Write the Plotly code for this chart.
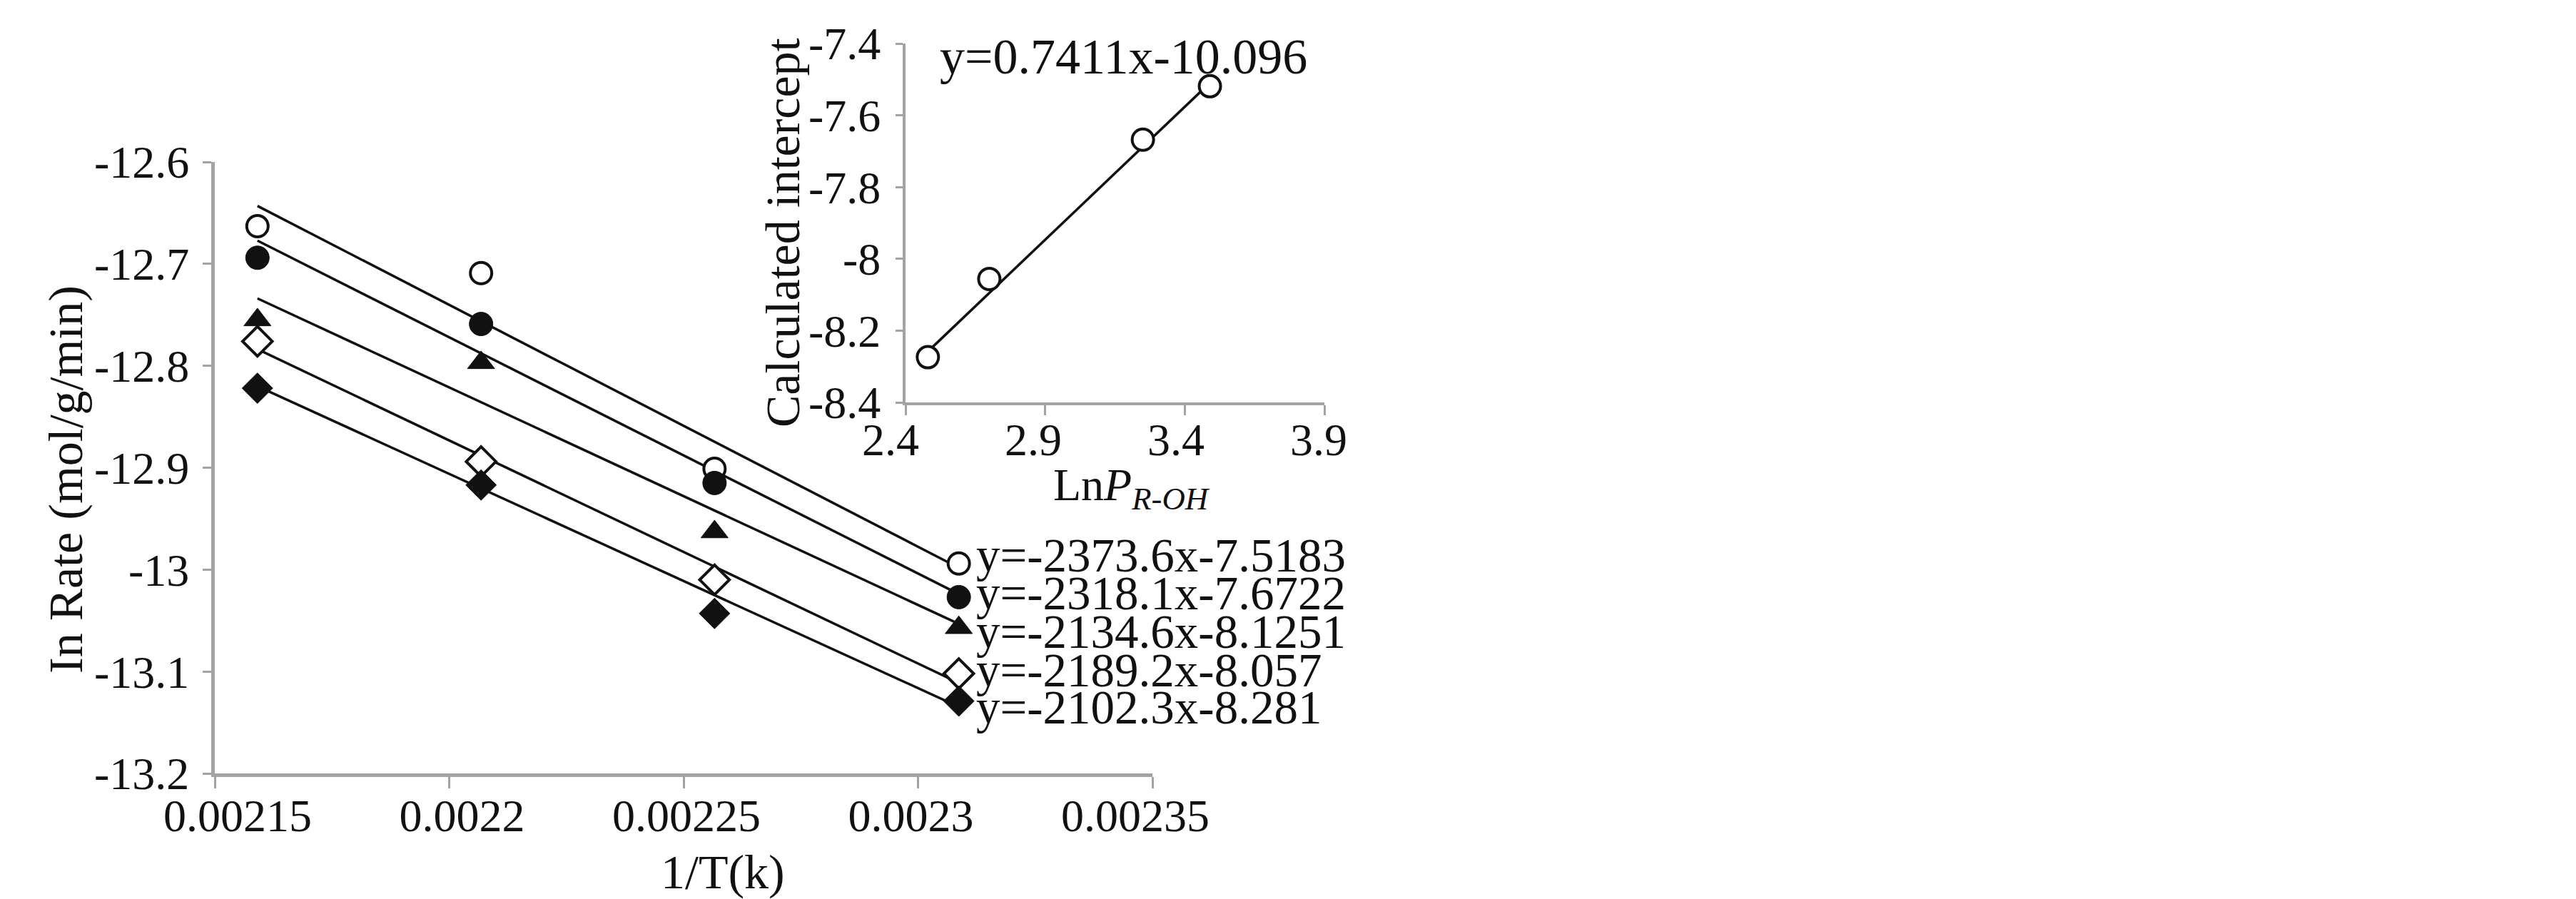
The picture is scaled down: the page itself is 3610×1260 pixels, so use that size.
"""
Arrhenius plot of ln rate against 1/T for five alcohol partial pressures,
with an inset of the fitted intercepts against ln P(R-OH).
"""

import plotly.graph_objects as go


# ── Data ──────────────────────────────────────────────────────────────────────
INV_T = [0.0021591, 0.0022068, 0.0022566, 0.0023087]

LN_RATE_1 = [-12.663, -12.709, -12.901, -12.994]   # open circle
LN_RATE_2 = [-12.694, -12.759, -12.915, -13.027]   # filled circle
LN_RATE_3 = [-12.755, -12.797, -12.963, -13.057]   # filled triangle
LN_RATE_4 = [-12.776, -12.894, -13.010, -13.102]   # open diamond
LN_RATE_5 = [-12.822, -12.917, -13.043, -13.129]   # filled diamond

SLOPES     = [-2373.6, -2318.1, -2134.6, -2189.2, -2102.3]
INTERCEPTS = [-7.5183, -7.6722, -8.1251, -8.057, -8.281]

X_TICKS      = [0.00215, 0.0022, 0.00225, 0.0023, 0.00235]
X_TICK_TEXT  = ["0.00215", "0.0022", "0.00225", "0.0023", "0.00235"]
Y_TICKS      = [-12.6, -12.7, -12.8, -12.9, -13.0, -13.1, -13.2]
Y_TICK_TEXT  = ["-12.6", "-12.7", "-12.8", "-12.9", "-13", "-13.1", "-13.2"]

# inset
LN_P           = [2.48, 2.70, 3.25, 3.49]
CALC_INTERCEPT = [-8.274, -8.056, -7.668, -7.519]
INSET_SLOPE     = 0.7411
INSET_INTERCEPT = -10.096

X2_TICKS     = [2.4, 2.9, 3.4, 3.9]
X2_TICK_TEXT = ["2.4", "2.9", "3.4", "3.9"]
Y2_TICKS     = [-7.4, -7.6, -7.8, -8.0, -8.2, -8.4]
Y2_TICK_TEXT = ["-7.4", "-7.6", "-7.8", "-8", "-8.2", "-8.4"]


# ── Style ─────────────────────────────────────────────────────────────────────
W, H     = 3610, 1260
FONT     = "Liberation Serif, Times New Roman, serif"
INK      = "#111111"
AXIS_CLR = "#a3a3a3"

MAIN_X = [293 / W, 1607 / W]
MAIN_Y = [184 / H, 1041 / H]
INS_X  = [1261 / W, 1848 / W]
INS_Y  = [704 / H, 1207 / H]
# the original's x tick labels sit a little tighter than their ticks
MAIN_X_LABELS = [325 / W, 1583 / W]
INS_X_LABELS  = [1240 / W, 1840 / W]

MARKERS = [
    dict(symbol="circle",      size=30, color="white", line=dict(color=INK, width=4)),
    dict(symbol="circle",      size=33, color=INK,     line=dict(color=INK, width=1)),
    dict(symbol="triangle-up", size=33, color=INK,     line=dict(color=INK, width=1)),
    dict(symbol="diamond",     size=32, color="white", line=dict(color=INK, width=4)),
    dict(symbol="diamond",     size=33, color=INK,     line=dict(color=INK, width=1)),
]
# nudges so the equation labels stack like the original
LABEL_YSHIFT = [12, 6, -5, 5, -8]


def _axis(**kw) -> dict:
    base = dict(
        showline=True, linecolor=AXIS_CLR, linewidth=5,
        ticks="outside", ticklen=16, tickwidth=3, tickcolor=AXIS_CLR,
        showgrid=False, zeroline=False, automargin=False,
        tickfont=dict(size=64, color=INK, family=FONT),
    )
    base.update(kw)
    return base


def _label_axis(**kw) -> dict:
    """Tick-free twin axis that only carries the x tick labels (sits closer)."""
    base = dict(
        showline=False, ticks="", showgrid=False, zeroline=False,
        automargin=False,
        tickfont=dict(size=64, color=INK, family=FONT),
    )
    base.update(kw)
    return base


fig = go.Figure()

series = [LN_RATE_1, LN_RATE_2, LN_RATE_3, LN_RATE_4, LN_RATE_5]

# trendlines first, markers on top
for slope, icpt in zip(SLOPES, INTERCEPTS):
    xs = [INV_T[0], INV_T[-1]]
    fig.add_trace(go.Scatter(
        x=xs, y=[slope * x + icpt for x in xs],
        mode="lines", line=dict(color=INK, width=3.5),
        showlegend=False, hoverinfo="skip",
    ))

for i, ys in enumerate(series):
    fig.add_trace(go.Scatter(
        x=INV_T, y=ys, mode="markers",
        marker=MARKERS[i], showlegend=False,
    ))
    fig.add_annotation(
        x=INV_T[-1], y=ys[-1], xref="x", yref="y",
        text=f"y={SLOPES[i]}x{INTERCEPTS[i]}",
        showarrow=False, xanchor="left", yanchor="middle",
        xshift=22, yshift=LABEL_YSHIFT[i],
        font=dict(size=67, color=INK, family=FONT),
    )

# inset
xs2 = [LN_P[0], LN_P[-1]]
fig.add_trace(go.Scatter(
    x=xs2, y=[INSET_SLOPE * x + INSET_INTERCEPT for x in xs2],
    xaxis="x2", yaxis="y2", mode="lines",
    line=dict(color=INK, width=3.5), showlegend=False, hoverinfo="skip",
))
fig.add_trace(go.Scatter(
    x=LN_P, y=CALC_INTERCEPT, xaxis="x2", yaxis="y2", mode="markers",
    marker=dict(symbol="circle", size=30, color="white", line=dict(color=INK, width=4)),
    showlegend=False,
))

# empty traces so the label-only twin axes get drawn
fig.add_trace(go.Scatter(x=[], y=[], xaxis="x3", yaxis="y", showlegend=False))
fig.add_trace(go.Scatter(x=[], y=[], xaxis="x4", yaxis="y2", showlegend=False))

fig.update_layout(
    template="none",
    width=W, height=H, autosize=False,
    margin=dict(l=0, r=0, t=0, b=0, autoexpand=False),
    paper_bgcolor="white", plot_bgcolor="rgba(0,0,0,0)",
    font=dict(family=FONT, color=INK),
    xaxis=_axis(domain=MAIN_X, range=[0.00215, 0.00235],
                tickvals=X_TICKS, showticklabels=False, anchor="y"),
    xaxis3=_label_axis(domain=MAIN_X_LABELS, range=[0.00215, 0.00235],
                       tickvals=X_TICKS, ticktext=X_TICK_TEXT,
                       anchor="y", side="bottom",
                       ticklabelstandoff=16),
    yaxis=_axis(domain=MAIN_Y, range=[-13.2, -12.6],
                tickvals=Y_TICKS, ticktext=Y_TICK_TEXT, anchor="x",
                ticklen=12, ticklabelstandoff=6),
    xaxis2=_axis(domain=INS_X, range=[2.4, 3.9],
                 tickvals=X2_TICKS, showticklabels=False, anchor="y2",
                 linewidth=4, ticklen=14),
    xaxis4=_label_axis(domain=INS_X_LABELS, range=[2.4, 3.9],
                       tickvals=X2_TICKS, ticktext=X2_TICK_TEXT,
                       anchor="y2", side="bottom",
                       ticklabelstandoff=9),
    yaxis2=_axis(domain=INS_Y, range=[-8.4, -7.4],
                 tickvals=Y2_TICKS, ticktext=Y2_TICK_TEXT, anchor="x2",
                 linewidth=4, ticklen=10, ticklabelstandoff=8),
)

title_font = dict(size=68, color=INK, family=FONT)
common = dict(xref="paper", yref="paper", showarrow=False,
              xanchor="center", yanchor="middle")

fig.add_annotation(text="1/T(k)", x=1005 / W, y=(H - 1214) / H,
                   font=title_font, **common)
fig.add_annotation(text="In Rate (mol/g/min)", x=84 / W, y=(H - 664) / H,
                   textangle=-90, font=title_font, **common)
fig.add_annotation(text="Calculated intercept", x=1089 / W, y=(H - 318) / H,
                   textangle=-90, font=title_font, **common)
fig.add_annotation(text="Ln<i>P</i><sub><i>R-OH</i></sub>", x=1578 / W, y=(H - 676) / H,
                   font=dict(size=64, color=INK, family=FONT), **common)
fig.add_annotation(text=f"y={INSET_SLOPE}x{INSET_INTERCEPT}",
                   x=1566 / W, y=(H - 71) / H,
                   font=dict(size=70, color=INK, family=FONT), **common)

fig.write_html("out.html")
